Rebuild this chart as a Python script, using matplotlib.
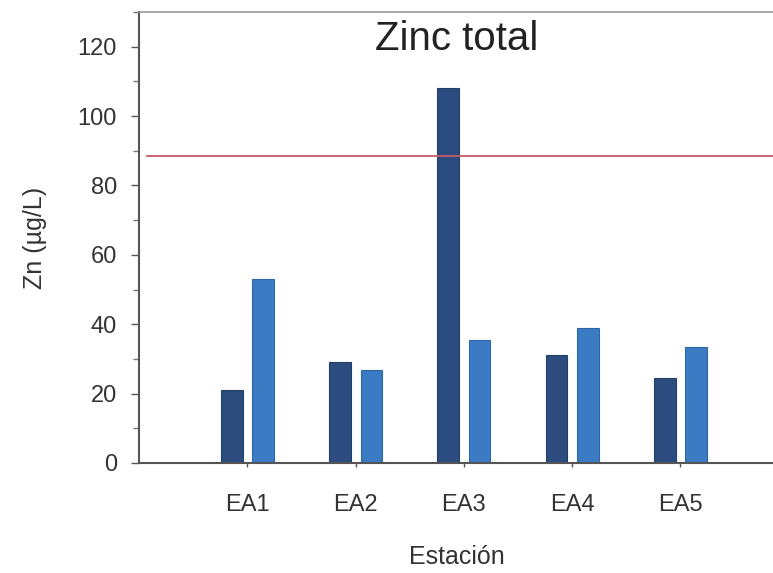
import numpy as np
import matplotlib.pyplot as plt
from matplotlib.ticker import MultipleLocator

plt.rcParams['font.family'] = ['Liberation Sans', 'DejaVu Sans']

estaciones = ['EA1', 'EA2', 'EA3', 'EA4', 'EA5']
zn_serie1 = [21, 29, 108, 31, 24.5]
zn_serie2 = [53, 26.7, 35.5, 39, 33.5]
limite = 88.5

fig = plt.figure(figsize=[7.73, 5.73], dpi=100)
ax = fig.add_axes([0.180, 0.192, 0.822, 0.787])

x = np.arange(1, len(estaciones) + 1)
w = 0.2
ax.bar(x - 0.145, zn_serie1, w, color='#2c4b7e', edgecolor='#243f6a', linewidth=0.8, zorder=2)
ax.bar(x + 0.145, zn_serie2, w, color='#3b7bc4', edgecolor='#2f66a6', linewidth=0.8, zorder=2)
ax.axhline(limite, xmin=0.013, xmax=1, color='#c45b6a', linewidth=1.3, zorder=3)

ax.set_xlim(0, 5.87)
ax.set_ylim(0, 130)
ax.set_xticks(x)
ax.set_xticklabels(estaciones)
ax.yaxis.set_major_locator(MultipleLocator(20))
ax.yaxis.set_minor_locator(MultipleLocator(10))
ax.set_yticks([0, 20, 40, 60, 80, 100, 120])

ax.tick_params(axis='y', which='major', direction='out', length=6, width=1, colors='#555555',
               labelsize=17, labelcolor='#333333', pad=10)
ax.tick_params(axis='y', which='minor', direction='out', length=4, width=1, colors='#777777')
ax.tick_params(axis='x', which='major', direction='out', length=3, width=1, colors='#555555',
               labelsize=17, labelcolor='#333333', pad=19)

for s in ['left', 'bottom']:
    ax.spines[s].set_color('#555555')
    ax.spines[s].set_linewidth(1.5)
ax.spines['top'].set_color('#999999')
ax.spines['top'].set_linewidth(1.2)
ax.spines['right'].set_visible(False)

ax.text(0.5, 0.94, 'Zinc total', transform=ax.transAxes, ha='center', va='center',
        fontsize=29, color='#222222')
ax.set_xlabel('Estación', fontsize=18, color='#333333', labelpad=21)
ax.set_ylabel('Zn (µg/L)', fontsize=18, color='#333333', labelpad=22)

plt.savefig('out.png', dpi=100)
